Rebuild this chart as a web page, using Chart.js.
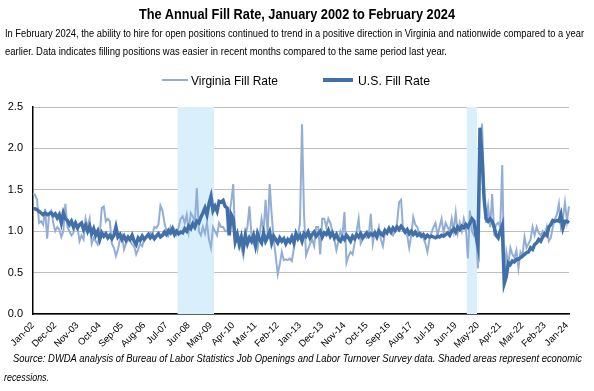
<!DOCTYPE html>
<html><head><meta charset="utf-8">
<script src="https://cdn.jsdelivr.net/npm/chart.js@4/dist/chart.umd.min.js"></script>
<style>
html,body{margin:0;padding:0;background:#fff;width:594px;height:391px;overflow:hidden;}
#wrap{position:relative;width:594px;height:391px;}
#c{position:absolute;left:0;top:0;}
.t{position:absolute;white-space:nowrap;transform-origin:0 0;color:#000;line-height:1;}
.sw{position:absolute;}
</style></head><body>
<div id="wrap"><canvas id="c" width="594" height="391"></canvas></div>
<script>
const FONT = "'Liberation Sans Narrow','Arial Narrow','Liberation Sans',Arial,sans-serif";

const monthNames = ['Jan','Feb','Mar','Apr','May','Jun','Jul','Aug','Sep','Oct','Nov','Dec'];
const firstYear = 2002, lastYear = 2024, lastMonthOfLastYear = 1; // Feb-24
const categories = [];
for (let y = firstYear; y <= lastYear; y++) {
  for (let m = 0; m < 12; m++) {
    if (y === lastYear && m > lastMonthOfLastYear) break;
    categories.push(monthNames[m] + '-' + String(y % 100).padStart(2, '0'));
  }
}

const tickLabels = ['Jan-02','Dec-02','Nov-03','Oct-04','Sep-05','Aug-06','Jul-07','Jun-08','May-09','Apr-10','Mar-11','Feb-12','Jan-13','Dec-13','Nov-14','Oct-15','Sep-16','Aug-17','Jul-18','Jun-19','May-20','Apr-21','Mar-22','Feb-23','Jan-24'];

const yTicks = [0.0, 0.5, 1.0, 1.5, 2.0, 2.5];

const virginiaFillRate = [
 1.45,1.44,1.38,1.10,1.12,1.08,1.27,0.91,1.22,1.25,1.10,1.00,
 1.05,1.02,0.93,1.00,1.33,1.05,1.00,0.95,0.98,1.10,1.05,0.88,
 0.95,0.90,1.15,1.05,1.15,0.85,0.92,0.88,0.84,0.96,1.28,1.30,
 1.12,1.15,1.12,0.85,0.80,0.70,0.78,0.90,0.95,0.78,0.85,0.90,
 0.88,0.84,0.82,0.72,0.78,0.85,0.82,0.90,0.93,0.95,0.98,0.96,
 1.05,1.04,1.08,1.31,1.25,1.10,1.00,0.95,1.05,0.98,1.02,0.96,
 1.05,1.15,1.18,1.10,1.20,1.00,1.22,1.18,1.10,1.52,1.00,0.95,
 1.05,0.97,1.10,0.90,0.80,1.05,1.00,0.95,1.10,1.05,1.05,1.00,
 1.00,1.20,1.35,1.57,0.85,0.92,0.90,0.80,0.70,0.95,1.05,1.30,
 0.95,0.85,0.90,0.78,0.95,1.15,1.00,1.38,0.95,1.57,1.20,0.90,
 0.70,0.48,0.60,0.75,0.65,0.66,0.65,0.67,0.64,0.80,0.95,0.95,
 1.10,2.29,1.20,0.71,0.78,0.85,0.90,0.82,1.05,1.05,0.72,1.15,
 1.15,1.05,1.15,1.10,1.00,0.90,0.77,0.88,1.00,0.95,1.23,0.62,
 0.70,0.75,0.72,0.85,1.00,1.15,0.85,0.90,0.95,0.92,0.95,1.21,
 0.85,1.00,0.95,1.05,0.90,0.82,0.98,1.00,1.05,0.98,0.95,1.00,
 1.10,1.35,1.38,1.00,0.98,0.95,0.80,0.95,1.17,1.08,1.05,0.95,
 0.98,0.92,0.85,0.75,0.90,0.98,1.05,1.10,0.95,1.05,1.15,0.98,
 1.10,1.05,1.00,1.15,1.00,1.22,0.98,1.10,1.00,1.15,1.05,0.67,
 1.25,1.00,0.95,0.98,0.55,1.70,2.30,1.50,1.10,1.30,1.05,1.45,
 1.00,1.08,1.10,1.05,1.80,0.45,0.75,0.60,0.80,0.72,0.68,0.77,
 0.55,0.75,0.70,0.93,0.80,0.85,0.90,1.05,0.95,1.05,0.98,0.95,
 1.00,0.95,1.05,0.88,0.92,1.05,1.15,1.20,1.33,1.05,1.15,1.35,
 1.12,1.30
];

const usFillRate = [
 1.27,1.27,1.26,1.24,1.22,1.20,1.22,1.20,1.21,1.22,1.19,1.21,
 1.16,1.20,1.10,1.22,1.15,1.13,1.08,1.12,1.05,1.10,1.04,1.08,
 1.10,1.02,1.07,1.00,1.06,0.97,1.03,0.95,1.00,0.90,0.98,0.94,
 0.97,0.92,0.95,0.91,0.95,1.05,0.93,0.96,0.90,0.94,0.89,0.93,
 0.90,0.95,0.88,0.84,0.92,0.89,0.94,0.90,0.93,0.96,0.92,0.95,
 0.91,0.94,0.97,0.93,0.95,0.99,0.96,1.01,0.98,1.03,0.96,1.00,
 0.97,0.99,0.98,1.03,1.00,1.06,1.03,1.09,1.05,1.12,1.10,1.17,
 1.22,1.28,1.20,1.33,1.42,1.25,1.30,1.24,1.36,1.35,1.37,1.30,
 1.28,0.95,1.20,1.15,0.88,0.96,0.84,0.93,0.80,0.95,0.85,0.92,
 0.88,0.95,0.83,0.97,0.90,0.86,0.98,0.88,0.93,0.99,0.86,0.94,
 0.90,0.86,0.92,0.88,0.91,0.85,0.90,0.87,0.93,0.86,0.97,0.91,
 0.95,0.88,0.97,0.94,0.99,0.92,0.96,0.99,0.94,0.97,1.00,0.93,
 0.98,0.96,1.01,0.94,0.98,0.92,0.96,0.90,0.88,0.93,0.90,0.95,
 0.92,0.88,0.94,0.91,0.96,0.93,0.97,0.92,0.95,0.98,0.94,0.97,
 0.95,0.98,0.93,1.00,0.97,0.95,1.01,0.98,1.03,0.99,1.04,1.01,
 1.05,1.02,1.06,1.03,0.99,1.02,0.97,1.00,0.96,0.99,0.95,0.97,
 0.94,0.96,0.92,0.95,0.93,0.94,0.93,0.92,0.94,0.93,0.95,0.94,
 0.96,0.98,0.95,1.00,1.03,0.99,1.05,1.02,1.06,1.04,1.08,1.05,
 1.10,1.15,1.12,0.95,0.82,2.25,1.90,1.40,1.15,1.12,1.15,1.12,
 1.05,0.95,0.92,1.00,1.07,0.37,0.45,0.62,0.60,0.64,0.63,0.66,
 0.66,0.68,0.70,0.72,0.74,0.75,0.80,0.78,0.84,0.86,0.90,0.88,
 0.93,0.97,0.95,1.05,1.08,1.13,1.12,1.13,1.12,1.20,1.04,1.12,
 1.12,1.10
];

const recessionStarts = ['Dec-07', 'Nov-19'];
const recessionEnds   = ['Jun-09', 'Apr-20'];

const seriesNames = ['Virginia Fill Rate', 'U.S. Fill Rate'];
const VA_COLOR = '#93AED6';
const US_COLOR = '#4170A9';
const SHADE = '#DAEFFC';

const shadePlugin = {
  id: 'shade',
  beforeDatasetsDraw(chart) {
    const {ctx, chartArea, scales: {x}} = chart;
    const step = x.getPixelForValue(1) - x.getPixelForValue(0);
    ctx.save();
    ctx.fillStyle = SHADE;
    for (let k = 0; k < recessionStarts.length; k++) {
      const a = x.getPixelForValue(categories.indexOf(recessionStarts[k])) + step * 0.5;
      const b = x.getPixelForValue(categories.indexOf(recessionEnds[k])) + step * 0.5;
      ctx.fillRect(a, chartArea.top, b - a, chartArea.bottom - chartArea.top);
    }
    ctx.restore();
  }
};

new Chart(document.getElementById('c'), {
  type: 'line',
  data: {
    labels: categories,
    datasets: [
      {label: seriesNames[0], data: virginiaFillRate, borderColor: VA_COLOR, borderWidth: 2, pointRadius: 0, tension: 0, order: 1},
      {label: seriesNames[1], data: usFillRate, borderColor: US_COLOR, borderWidth: 3.5, pointRadius: 0, tension: 0, order: 0}
    ]
  },
  options: {
    responsive: false, animation: false, devicePixelRatio: 1,
    layout: {padding: {top: 107, right: 25, bottom: 0, left: 0}},
    plugins: {legend: {display: false}, tooltip: {enabled: false}, title: {display: false}},
    scales: {
      x: {
        type: 'category', offset: false,
        grid: {display: false, drawTicks: false},
        border: {color: '#000', width: 1.5},
        ticks: {
          autoSkip: false, maxRotation: 45, minRotation: 45, padding: 6,
          color: '#000', font: {family: FONT, size: 9.5},
          callback: function(v) { const l = this.getLabelForValue(v); return tickLabels.includes(l) ? l : null; }
        },
        afterFit(s) { s.height = 77; }
      },
      y: {
        min: 0, max: 2.5,
        afterBuildTicks(s) { s.ticks = yTicks.map(v => ({value: v})); },
        grid: {color: '#BFBFBF', drawTicks: false, lineWidth: 1},
        border: {color: '#000', width: 1.5},
        ticks: {padding: 10, color: '#000', font: {family: FONT, size: 11}, callback: v => Number(v).toFixed(1)},
        afterFit(s) { s.width = 33; }
      }
    }
  },
  plugins: [shadePlugin]
});

function place(text, x, yc, w, font) {
  const el = document.createElement('div');
  el.className = 't';
  el.style.font = font;
  el.style.lineHeight = '1';
  el.textContent = text;
  document.getElementById('wrap').appendChild(el);
  const r = el.getBoundingClientRect();
  el.style.left = x + 'px';
  el.style.top = (yc - r.height / 2) + 'px';
  el.style.transform = 'scaleX(' + (w / r.width) + ')';
}
function swatch(x, yc, w, h, color) {
  const el = document.createElement('div');
  el.className = 'sw';
  el.style.left = x + 'px'; el.style.top = (yc - h / 2) + 'px';
  el.style.width = w + 'px'; el.style.height = h + 'px';
  el.style.background = color;
  document.getElementById('wrap').appendChild(el);
}

place('The Annual Fill Rate, January 2002 to February 2024', 139, 14, 316, 'bold 15.5px ' + FONT);
place('In February 2024, the ability to hire for open positions continued to trend in a positive direction in Virginia and nationwide compared to a year', 4.5, 34, 579, '11.5px ' + FONT);
place('earlier. Data indicates filling positions was easier in recent months compared to the same period last year.', 4.5, 52, 442, '11.5px ' + FONT);

swatch(162, 80, 26, 2, VA_COLOR);
place(seriesNames[0], 191, 80, 87, '13px ' + FONT);
swatch(323, 80, 30, 4, US_COLOR);
place(seriesNames[1], 358, 80, 72, '13px ' + FONT);

place('Source: DWDA analysis of Bureau of Labor Statistics Job Openings and Labor Turnover Survey data. Shaded areas represent economic', 13, 358, 569, 'italic 10.5px ' + FONT);
place('recessions.', 4, 377, 45, 'italic 10.5px ' + FONT);
</script>
</body></html>
